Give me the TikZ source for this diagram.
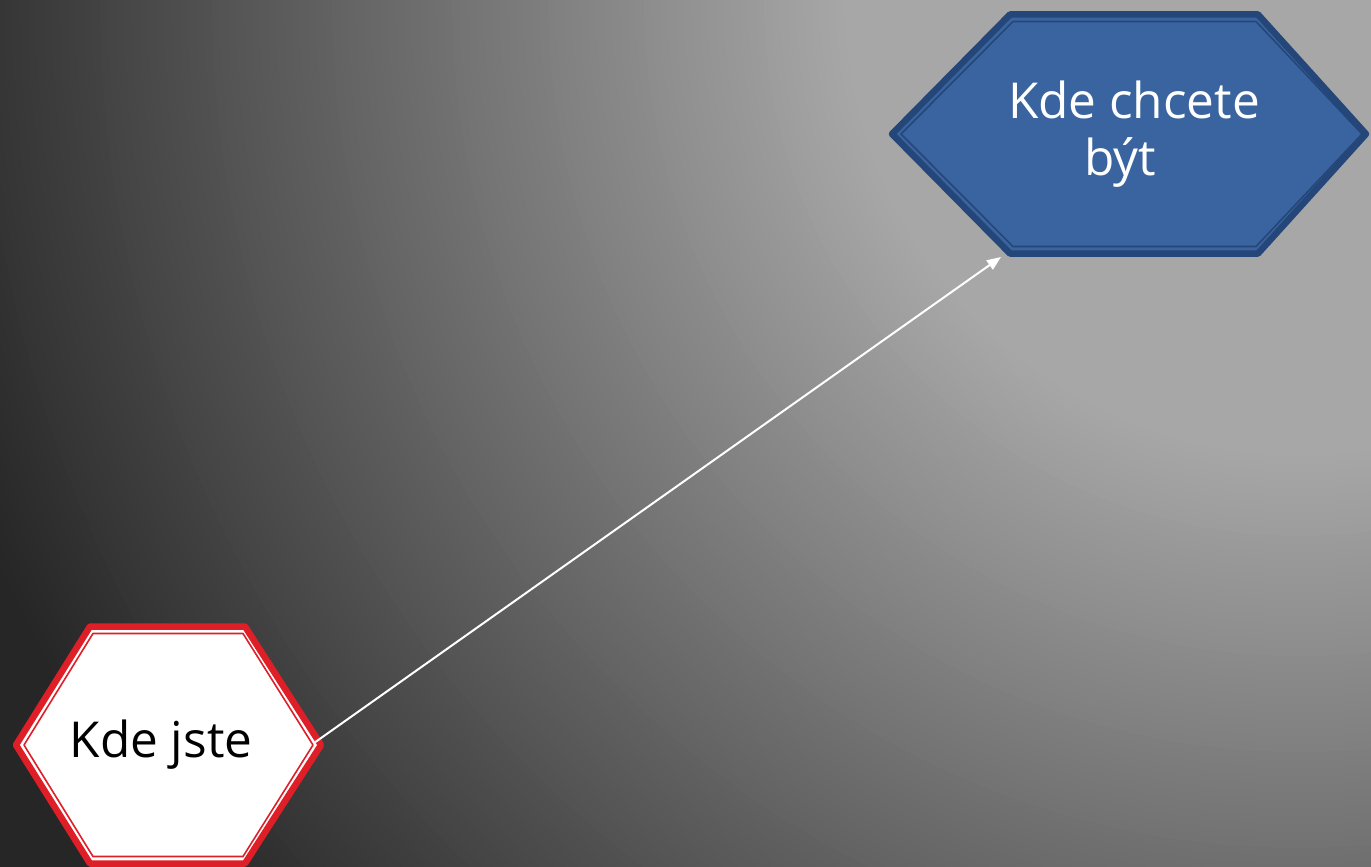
\documentclass[tikz,border=0pt]{standalone}
\usepackage{fontspec}
\setmainfont{Open Sans}
\usetikzlibrary{arrows.meta}
\definecolor{bgA}{RGB}{168,168,168}
\definecolor{bgC}{RGB}{38,38,38}
\definecolor{hexblue}{RGB}{58,100,159}
\definecolor{hexblueline}{RGB}{37,70,121}
\definecolor{hexred}{RGB}{222,31,39}
\begin{document}
\begin{tikzpicture}[x=1pt,y=-1pt,
  thickborder/.style={line width=6.5pt,line join=round},
  thinborder/.style={line width=1.6pt,line join=round},
  label/.style={inner sep=0pt,anchor=base,font=\fontsize{49.5}{57}\selectfont},
  conn/.style={draw=white,line width=2pt,-{Triangle[length=14pt,width=11pt]}}]
\useasboundingbox (0,0) rectangle (1371,867);
\begin{scope}
  \clip (0,0) rectangle (1371,867);
  \fill[bgC] (0,0) rectangle (1371,867);
  \foreach \r in {1600,1592,...,450} {
    \pgfmathsetmacro\p{max(0,min(100,(1420-\r)/9.7))}
    \fill[bgA!\p!bgC] (1300,0) circle[radius=\r pt];
  }
\end{scope}
% blue hexagon: Kde chcete byt
\fill[hexblue] (892,134) -- (1010,14.5) -- (1258,14.5) -- (1366,134) -- (1258,253.5) -- (1010,253.5) -- cycle;
\draw[thickborder,draw=hexblueline] (892,134) -- (1010,14.5) -- (1258,14.5) -- (1366,134) -- (1258,253.5) -- (1010,253.5) -- cycle;
\draw[thinborder,draw=hexblueline] (901,134) -- (1013,21.5) -- (1256,21.5) -- (1362,134) -- (1256,246.5) -- (1013,246.5) -- cycle;
\node[label,text=white] (want) at (1134,118) {Kde chcete};
\node[label,text=white] (want2) at (1120,175) {být};
% red hexagon: Kde jste
\fill[white] (16,745) -- (90,626.5) -- (245,626.5) -- (321,745) -- (245,863.5) -- (90,863.5) -- cycle;
\draw[thickborder,draw=hexred] (16,745) -- (90,626.5) -- (245,626.5) -- (321,745) -- (245,863.5) -- (90,863.5) -- cycle;
\draw[thinborder,draw=hexred] (24,745) -- (93,633.5) -- (243,633.5) -- (313,745) -- (243,856.5) -- (93,856.5) -- cycle;
\node[label,text=black] (here) at (161,757) {Kde jste};
% connector
\coordinate (here-e) at (314,743);
\coordinate (want-sw) at (1001,257);
\draw[conn] (here-e) -- (want-sw);
\end{tikzpicture}
\end{document}
